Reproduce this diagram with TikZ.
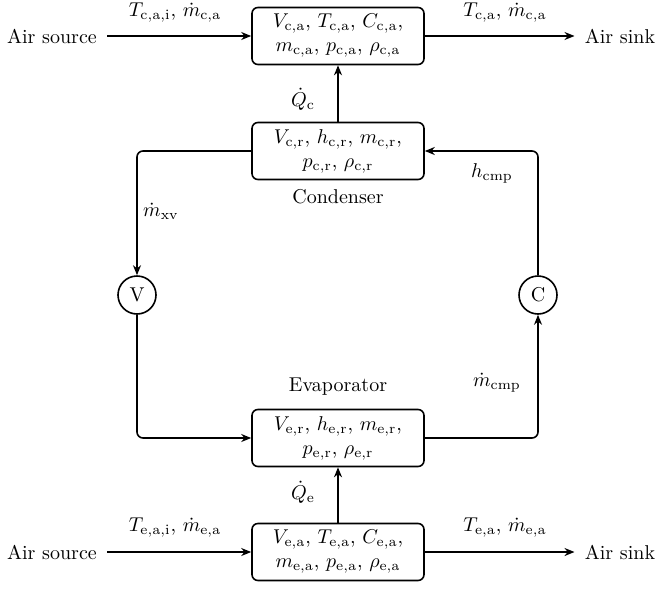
\documentclass[tikz,border=0pt]{standalone}
\usetikzlibrary{arrows.meta}
\begin{document}
\begin{tikzpicture}[x=0.5pt,y=-0.5pt,
  box/.style={draw,thick,rounded corners=3pt,minimum width=86pt,minimum height=28.5pt,align=center,inner sep=2pt},
  valve/.style={draw,thick,circle,minimum size=19pt,inner sep=0pt},
  flow/.style={thick,-{Stealth[length=5pt,width=4pt]}},
  pipe/.style={thick,rounded corners=3pt},
  ends/.style={inner sep=5pt},
  lbl/.style={inner sep=0pt}]
\useasboundingbox (0,0) rectangle (662,589);
% boxes
\node[box] (ca) at (338,36) {$V_{\mathrm{c,a}}$, $T_{\mathrm{c,a}}$, $C_{\mathrm{c,a}}$,\\ $m_{\mathrm{c,a}}$, $p_{\mathrm{c,a}}$, $\rho_{\mathrm{c,a}}$};
\node[box] (cr) at (338,151) {$V_{\mathrm{c,r}}$, $h_{\mathrm{c,r}}$, $m_{\mathrm{c,r}}$,\\ $p_{\mathrm{c,r}}$, $\rho_{\mathrm{c,r}}$};
\node[box] (er) at (338,438) {$V_{\mathrm{e,r}}$, $h_{\mathrm{e,r}}$, $m_{\mathrm{e,r}}$,\\ $p_{\mathrm{e,r}}$, $\rho_{\mathrm{e,r}}$};
\node[box] (ea) at (338,552) {$V_{\mathrm{e,a}}$, $T_{\mathrm{e,a}}$, $C_{\mathrm{e,a}}$,\\ $m_{\mathrm{e,a}}$, $p_{\mathrm{e,a}}$, $\rho_{\mathrm{e,a}}$};
\node[valve] (v) at (137,295) {V};
\node[valve] (c) at (538,295) {C};
% sources and sinks
\node[ends] (srcT) at (52,36) {Air source};
\node[ends] (snkT) at (620,36) {Air sink};
\node[ends] (srcB) at (52,552) {Air source};
\node[ends] (snkB) at (620,552) {Air sink};
% labels
\node[lbl] (l1) at (175,13) {$T_{\mathrm{c,a,i}}$, $\dot m_{\mathrm{c,a}}$};
\node[lbl] (l2) at (505,13) {$T_{\mathrm{c,a}}$, $\dot m_{\mathrm{c,a}}$};
\node[lbl] (l3) at (175,528) {$T_{\mathrm{e,a,i}}$, $\dot m_{\mathrm{e,a}}$};
\node[lbl] (l4) at (505,528) {$T_{\mathrm{e,a}}$, $\dot m_{\mathrm{e,a}}$};
\node[lbl] (qc) at (303,99) {$\dot Q_{\mathrm{c}}$};
\node[lbl] (qe) at (303,492) {$\dot Q_{\mathrm{e}}$};
\node[lbl] (cond) at (338,197) {Condenser};
\node[lbl] (evap) at (338,387) {Evaporator};
\node[lbl] (mxv) at (161,211) {$\dot m_{\mathrm{xv}}$};
\node[lbl] (hcmp) at (492,173) {$h_{\mathrm{cmp}}$};
\node[lbl] (mcmp) at (497,383) {$\dot m_{\mathrm{cmp}}$};
% air flows
\draw[flow] (srcT) -- (ca);
\draw[flow] (ca) -- (snkT);
\draw[flow] (srcB) -- (ea);
\draw[flow] (ea) -- (snkB);
\draw[flow] (cr) -- (ca);
\draw[flow] (ea) -- (er);
% refrigerant loop
\draw[pipe,-{Stealth[length=5pt,width=4pt]}] (cr.west) -| (v.north);
\draw[pipe,-{Stealth[length=5pt,width=4pt]}] (v.south) |- (er.west);
\draw[pipe,-{Stealth[length=5pt,width=4pt]}] (er.east) -| (c.south);
\draw[pipe,-{Stealth[length=5pt,width=4pt]}] (c.north) |- (cr.east);
\end{tikzpicture}
\end{document}
